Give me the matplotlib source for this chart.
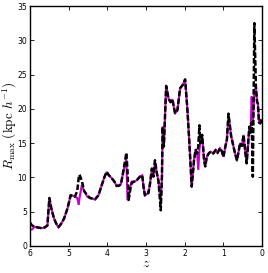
import matplotlib
matplotlib.use("Agg")
import matplotlib.pyplot as plt
import numpy as np

plt.rcParams['mathtext.fontset'] = 'cm'

# redshift samples and R_max values (kpc/h)
z = [6.0, 5.95, 5.88, 5.8, 5.7, 5.62, 5.55, 5.5, 5.45, 5.38, 5.3, 5.26, 5.2, 5.12,
     5.03, 4.95, 4.88, 4.84, 4.78, 4.74, 4.72, 4.66, 4.6, 4.52,
     4.45, 4.38, 4.32, 4.23, 4.15, 4.08, 4.02, 3.96, 3.89, 3.82, 3.76, 3.7, 3.65,
     3.6, 3.54, 3.51, 3.48, 3.45, 3.4, 3.37, 3.3, 3.24, 3.16, 3.1, 3.06, 3.03,
     2.98, 2.94, 2.9, 2.85, 2.81, 2.77, 2.72, 2.68, 2.62, 2.59, 2.57, 2.54, 2.48,
     2.42, 2.37, 2.32, 2.25, 2.19, 2.12, 2.05, 1.99, 1.93, 1.88, 1.82, 1.76, 1.72,
     1.68, 1.65, 1.62,
     1.6, 1.55, 1.5, 1.47, 1.43, 1.38, 1.33, 1.26, 1.2, 1.15, 1.09, 1.04, 1.0,
     0.95, 0.91, 0.87, 0.83, 0.8, 0.74, 0.7, 0.65, 0.6, 0.57, 0.52, 0.48, 0.44,
     0.40, 0.36, 0.33, 0.30, 0.27, 0.24, 0.2, 0.16, 0.13, 0.11, 0.08, 0.05, 0.02, 0.0]

r_solid = [2.4, 2.4, 2.8, 2.7, 2.6, 2.7, 3.0, 7.0, 5.5, 4.0, 3.0, 2.7, 3.2, 4.0,
           5.5, 7.4, 7.3, 7.2, 7.0, 6.0, 7.0, 8.9, 8.0, 7.2,
           7.0, 6.9, 6.8, 7.4, 8.8, 10.0, 10.8, 10.3, 9.9, 9.4, 8.75, 8.8, 9.0,
           10.5, 12.1, 12.6, 6.7, 7.0, 8.8, 9.4, 9.4, 9.6, 10.1, 10.3, 8.4, 7.4,
           7.6, 7.7, 9.0, 11.1, 10.1, 12.3, 10.6, 9.5, 6.2, 10.0, 17.4, 14.5, 23.5,
           21.5, 21.0, 21.4, 19.35, 19.8, 23.0, 23.5, 24.3, 19.8, 15.0, 8.65, 12.5, 14.0,
           13.5, 11.1, 14.0,
           15.0, 16.2, 12.5, 11.6, 13.0, 13.5, 13.75, 13.5, 14.0, 13.6, 14.25, 13.8, 13.0,
           14.5, 15.5, 19.1, 17.4, 16.0, 14.5, 13.5, 12.5, 14.0, 15.0, 14.6, 16.2, 14.0,
           12.05, 15.0, 17.4, 16.5, 21.8, 18.0, 22.5, 23.2, 21.0, 20.8, 18.0, 17.9, 18.5, 18.0]

r_dashed = [3.4, 3.0, 2.8, 2.7, 2.6, 2.7, 3.0, 7.0, 5.5, 4.0, 3.0, 2.8, 3.2, 4.0,
            5.5, 7.4, 7.3, 7.2, 8.0, 10.0, 10.4, 9.5, 8.0, 7.4,
            7.0, 6.9, 6.8, 7.4, 8.8, 10.0, 10.8, 10.3, 9.9, 9.4, 8.75, 8.8, 9.0,
            10.5, 12.5, 13.6, 11.0, 6.7, 8.5, 9.2, 9.4, 9.6, 10.1, 10.3, 8.4, 7.4,
            7.8, 7.7, 9.0, 11.3, 10.1, 12.5, 10.6, 9.5, 5.2, 10.0, 17.4, 14.5, 23.3,
            21.5, 21.0, 21.4, 19.35, 19.8, 23.0, 23.5, 24.3, 19.8, 15.0, 8.65, 12.5, 14.0,
            13.5, 14.5, 17.6,
            15.0, 16.2, 12.5, 11.6, 13.0, 13.5, 13.75, 13.5, 14.0, 13.6, 14.25, 13.8, 13.0,
            14.5, 15.5, 19.3, 17.4, 16.0, 14.5, 13.5, 12.5, 14.0, 15.0, 14.6, 16.2, 14.0,
            12.05, 15.0, 17.4, 16.5, 18.0, 10.1, 32.5, 23.2, 21.0, 20.8, 18.0, 17.9, 18.5, 18.0]

fig = plt.figure(figsize=(2.68, 2.73), dpi=100)
ax = fig.add_axes([0.112, 0.099, 0.866, 0.879])

ax.plot(z, r_solid, color='#cc00cc', lw=1.5, solid_joinstyle='miter')
ax.plot(z, r_dashed, color='black', lw=1.8, ls=(0, (2.2, 0.9)))

ax.set_xlim(6, 0)
ax.set_ylim(0, 35)
ax.set_xticks([6, 5, 4, 3, 2, 1, 0])
ax.set_yticks([0, 5, 10, 15, 20, 25, 30, 35])
ax.tick_params(direction='in', top=True, right=True, labelsize=5.5,
               length=3, width=0.6, pad=2)
for s in ax.spines.values():
    s.set_linewidth(1.0)

ax.set_xlabel(r'$z$', fontsize=10)
ax.xaxis.set_label_coords(0.5, -0.043)
ax.set_ylabel(r'$R_{\rm max}\ ({\rm kpc}\ h^{-1})$', fontsize=9.5)
ax.yaxis.set_label_coords(-0.047, 0.5)

fig.savefig('out.png', dpi=100)
